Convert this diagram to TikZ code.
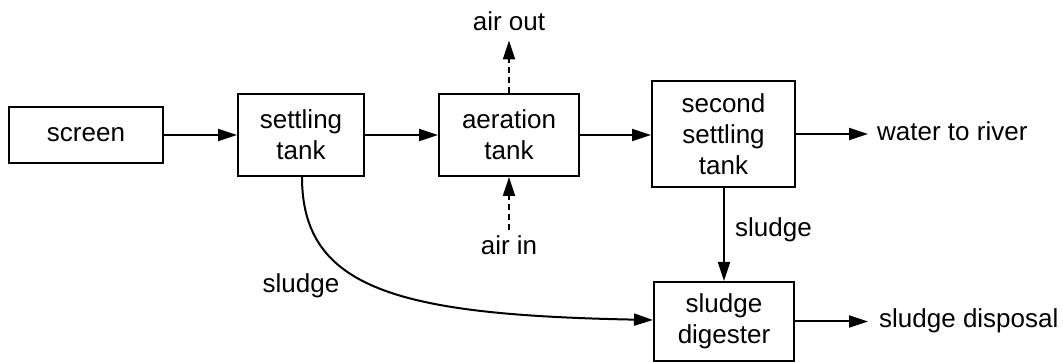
\documentclass[tikz,border=0pt]{standalone}
\usepackage{fontspec}
\setmainfont{Liberation Sans}
\usetikzlibrary{arrows.meta}
\begin{document}
\begin{tikzpicture}[x=1pt,y=-1pt,
  font=\fontsize{26}{31}\selectfont,
  box/.style={draw, line width=2pt, inner sep=0pt, align=center},
  lbl/.style={inner sep=0pt},
  flow/.style={line width=2pt, -{Triangle[length=19pt,width=12pt]}},
  airflow/.style={flow, dash pattern=on 6pt off 4pt}]
\useasboundingbox (0,0) rectangle (1063,363);

% process boxes
\node[box, minimum width=154pt, minimum height=56pt]  (screen) at (86,135)    {screen};
\node[box, minimum width=126pt, minimum height=82pt]  (settle) at (301,135)   {settling\\tank};
\node[box, minimum width=140pt, minimum height=82pt]  (aer)    at (509,135)   {aeration\\tank};
\node[box, minimum width=143pt, minimum height=106pt] (second) at (723.5,134) {second\\settling\\tank};
\node[box, minimum width=140pt, minimum height=79pt]  (dig)    at (724,321.5) {sludge\\digester};

% free labels
\node[lbl, anchor=base]      (airout) at (509,31)  {air out};
\node[lbl, anchor=base]      (airin)  at (509,255) {air in};
\node[lbl, anchor=base west] (water)  at (877,141) {water to river};
\node[lbl, anchor=base west] (disp)   at (879,328) {sludge disposal};
\node[lbl, anchor=base west] (sl1)    at (735,237) {sludge};
\node[lbl, anchor=base]      (sl2)    at (301,293) {sludge};

% main flow
\draw[flow] (screen.east) -- (settle.west |- screen.east);
\draw[flow] (settle.east) -- (aer.west |- settle.east);
\draw[flow] (aer.east) -- (second.west |- aer.east);
\draw[flow] (second.east) -- ([xshift=-9pt]second.east -| water.west);
\draw[flow] (dig.east) -- ([xshift=-11pt]dig.east -| disp.west);
\draw[flow] (second.south -| dig.north) -- (dig.north);

% air in and out of the aeration tank
\draw[airflow] (aer.north) -- ([yshift=-9pt]airout.south);
\draw[airflow] ([yshift=6pt]airin.north) -- (aer.south);

% sludge from the first settling tank to the digester
\draw[flow] ([xshift=1pt]settle.south) .. controls (302,290) and (400,315) .. ([yshift=1.5pt]dig.west);
\end{tikzpicture}
\end{document}
